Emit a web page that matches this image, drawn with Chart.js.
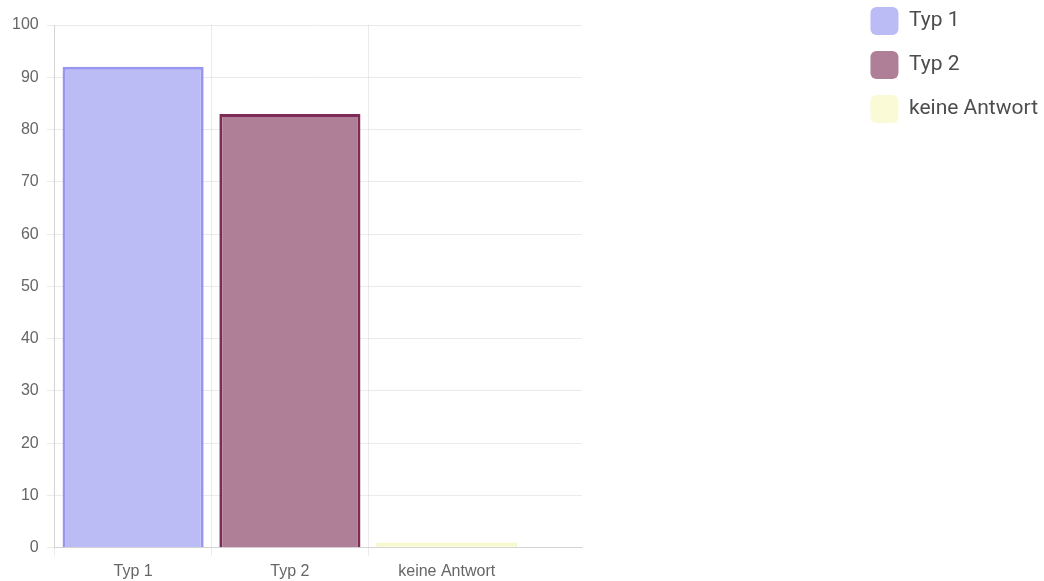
<!DOCTYPE html>
<html>
<head>
<meta charset="utf-8">
<style>
  html, body { margin: 0; padding: 0; background: #ffffff; overflow: hidden; }
  canvas { display: block; }
</style>
<script src="https://cdn.jsdelivr.net/npm/chart.js@4/dist/chart.umd.min.js"></script>
</head>
<body>
<canvas id="c" width="1044" height="581"></canvas>
<script>
// ---- data ----
const categories = ['Typ 1', 'Typ 2', 'keine Antwort'];
const values = [92, 83, 1];
const fillColors = ['#bbbbf6', '#ae7f96', '#fafad6'];
const borderColors = ['#9797f1', '#7e2c56', '#f7f7cc'];
const yMin = 0;
const yMax = 100;
const yStep = 10;

function draw() {
  const datasets = categories.map((name, i) => ({
    label: name,
    data: [{ x: i, y: values[i] }],
    backgroundColor: fillColors[i],
    borderColor: borderColors[i],
    borderWidth: 3
  }));

  const gridColor = 'rgba(0,0,0,0.08)';
  const tickFont = { family: 'Liberation Sans', size: 16 };

  new Chart(document.getElementById('c'), {
    type: 'bar',
    data: { datasets },
    options: {
      responsive: false,
      animation: false,
      devicePixelRatio: 1,
      datasets: { bar: { grouped: false, categoryPercentage: 1, barPercentage: 0.9 } },
      layout: { padding: { top: -9, left: 4, right: -4, bottom: -6 } },
      scales: {
        x: {
          type: 'linear',
          offset: false,
          min: -0.5,
          max: 2.863,
          afterBuildTicks: s => { s.ticks = categories.map((_, i) => ({ value: i })); },
          ticks: {
            callback: v => categories[v],
            color: '#666',
            font: tickFont,
            padding: 6,
            autoSkip: false,
            maxRotation: 0
          },
          grid: {
            offset: true,
            tickLength: 8,
            color: c => (c.type === 'tick' ? gridColor : 'rgba(0,0,0,0)')
          },
          border: { color: 'rgba(0,0,0,0.1)' }
        },
        y: {
          min: yMin,
          max: yMax,
          ticks: { stepSize: yStep, color: '#666', font: tickFont, padding: 8 },
          grid: { color: gridColor, tickLength: 8 },
          border: { color: 'rgba(0,0,0,0.1)' }
        }
      },
      plugins: {
        legend: {
          position: 'right',
          align: 'start',
          maxWidth: 400,
          labels: {
            boxWidth: 28,
            boxHeight: 28,
            padding: 16,
            color: '#4d4d4d',
            font: { family: 'Roboto', size: 21 },
            useBorderRadius: true,
            borderRadius: 6,
            generateLabels: chart => Chart.defaults.plugins.legend.labels.generateLabels(chart)
              .map(l => Object.assign(l, { lineWidth: 0 }))
          }
        },
        title: {
          display: true, text: '', position: 'top', fullSize: false,
          padding: { top: 0, bottom: 19.6 }
        },
        subtitle: {
          display: true, text: '', position: 'right', fullSize: false, weight: 500,
          padding: { top: 0, bottom: 258 }
        },
        tooltip: { enabled: false }
      }
    }
  });
}

Promise.all([
  document.fonts.load('21px Roboto'),
  document.fonts.load('16px "Liberation Sans"')
]).then(draw, draw);
</script>
</body>
</html>
